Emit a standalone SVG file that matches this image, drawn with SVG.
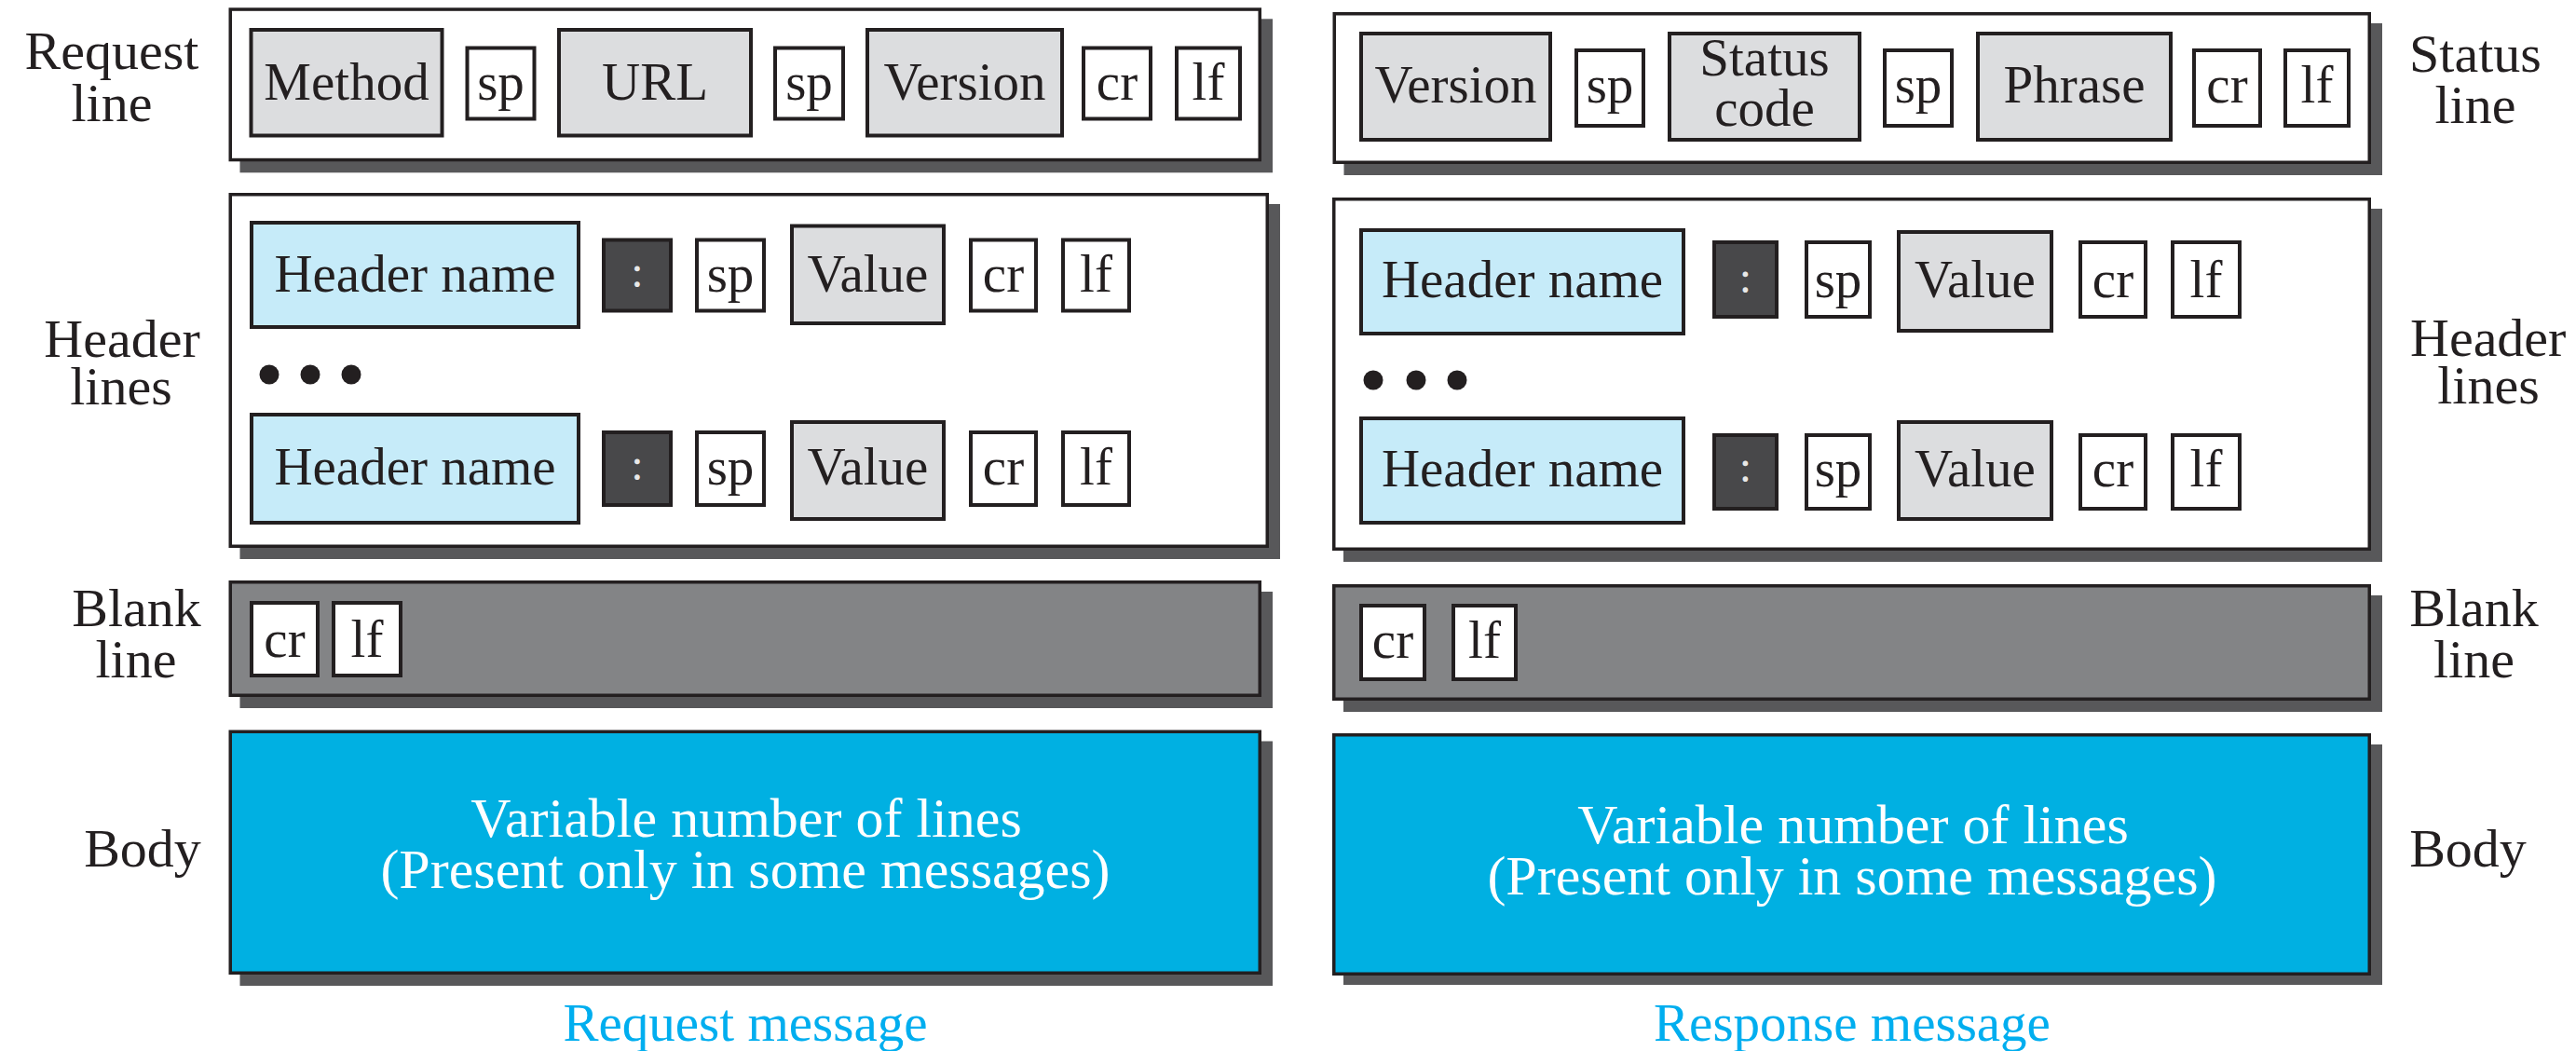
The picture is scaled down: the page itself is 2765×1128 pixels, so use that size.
<svg xmlns="http://www.w3.org/2000/svg" width="2765" height="1128" viewBox="0 0 2765 1128">
<style>
  .sh{fill:#58585a}
  .fr{fill:#ffffff;stroke:#231f20;stroke-width:3.5}
  .fb{fill:#838486;stroke:#231f20;stroke-width:3.5}
  .fy{fill:#00b0e2;stroke:#231f20;stroke-width:3.5}
  .bx{stroke:#231f20;stroke-width:4}
  .g{fill:#dcdddf}
  .w{fill:#ffffff}
  .c{fill:#c6ebf9}
  .d{fill:#48484a}
  text{font-family:"Liberation Serif","Times New Roman",serif;text-anchor:middle}
  .t{font-size:57px;fill:#231f20}
  .col{font-size:48px;fill:#e8e8e8}
  .lb{font-size:58px;fill:#231f20}
  .bt{font-size:60px;fill:#ffffff}
  .cap{font-size:57px;fill:#00aeef}
  .dot{fill:#231f20}
</style>

<!-- ================= Request message (left) ================= -->
<g id="request-line">
  <rect class="sh" x="257.5" y="20.3" width="1108.5" height="165"/>
  <rect class="fr" x="247.25" y="10.05" width="1105" height="161.5"/>
  <rect class="bx g" x="269.5" y="32" width="205" height="113.5"/>
  <text class="t" x="372" y="107">Method</text>
  <rect class="bx w" x="501.5" y="51.5" width="72" height="76"/>
  <text class="t" x="537.5" y="107">sp</text>
  <rect class="bx g" x="600" y="32" width="206" height="113.5"/>
  <text class="t" x="703" y="107">URL</text>
  <rect class="bx w" x="832" y="51.5" width="73" height="76"/>
  <text class="t" x="868.5" y="107">sp</text>
  <rect class="bx g" x="931" y="32" width="209" height="113.5"/>
  <text class="t" x="1035.5" y="107">Version</text>
  <rect class="bx w" x="1163" y="51.5" width="72" height="76"/>
  <text class="t" x="1199" y="107">cr</text>
  <rect class="bx w" x="1263" y="51.5" width="68" height="76"/>
  <text class="t" x="1297" y="107">lf</text>
</g>

<g id="request-headers">
  <rect class="sh" x="257.5" y="219" width="1116.5" height="381"/>
  <rect class="fr" x="247.25" y="208.75" width="1113" height="377.5"/>
  <rect class="bx c" x="270" y="239" width="351" height="112"/>
  <text class="t" x="445.5" y="313">Header name</text>
  <rect class="bx d" x="648" y="257.5" width="72" height="76"/>
  <text class="col" x="684" y="308">:</text>
  <rect class="bx w" x="748" y="257.5" width="72" height="76"/>
  <text class="t" x="784" y="313">sp</text>
  <rect class="bx g" x="850" y="242.5" width="163" height="104.5"/>
  <text class="t" x="931.5" y="313">Value</text>
  <rect class="bx w" x="1042" y="257.5" width="70" height="76"/>
  <text class="t" x="1077" y="313">cr</text>
  <rect class="bx w" x="1141" y="257.5" width="71" height="76"/>
  <text class="t" x="1176.5" y="313">lf</text>

  <circle class="dot" cx="289" cy="402" r="10.5"/>
  <circle class="dot" cx="333" cy="402" r="10.5"/>
  <circle class="dot" cx="377" cy="402" r="10.5"/>

  <rect class="bx c" x="270" y="445" width="351" height="116"/>
  <text class="t" x="445.5" y="520">Header name</text>
  <rect class="bx d" x="648" y="464" width="72" height="78"/>
  <text class="col" x="684" y="515">:</text>
  <rect class="bx w" x="748" y="464" width="72" height="78"/>
  <text class="t" x="784" y="520">sp</text>
  <rect class="bx g" x="850" y="453" width="163" height="104"/>
  <text class="t" x="931.5" y="520">Value</text>
  <rect class="bx w" x="1042" y="464" width="70" height="78"/>
  <text class="t" x="1077" y="520">cr</text>
  <rect class="bx w" x="1141" y="464" width="71" height="78"/>
  <text class="t" x="1176.5" y="520">lf</text>
</g>

<g id="request-blank">
  <rect class="sh" x="257.5" y="635" width="1108.5" height="125"/>
  <rect class="fb" x="247.25" y="624.75" width="1105" height="121.5"/>
  <rect class="bx w" x="270" y="647" width="71" height="78"/>
  <text class="t" x="305.5" y="705">cr</text>
  <rect class="bx w" x="358" y="647" width="72" height="78"/>
  <text class="t" x="394" y="705">lf</text>
</g>

<g id="request-body">
  <rect class="sh" x="257.5" y="795.5" width="1108.5" height="262.5"/>
  <rect class="fy" x="247.25" y="785.25" width="1105" height="259"/>
  <text class="bt" x="801" y="898">Variable number of lines</text>
  <text class="bt" x="800" y="953">(Present only in some messages)</text>
</g>

<g id="request-labels">
  <text class="lb" x="120" y="74">Request</text>
  <text class="lb" x="120" y="130">line</text>
  <text class="lb" x="131" y="383">Header</text>
  <text class="lb" x="130" y="434">lines</text>
  <text class="lb" x="146.5" y="672">Blank</text>
  <text class="lb" x="146" y="727">line</text>
  <text class="lb" x="153" y="930">Body</text>
  <text class="cap" x="800" y="1117">Request message</text>
</g>

<!-- ================= Response message (right) ================= -->
<g id="status-line">
  <rect class="sh" x="1442.5" y="25" width="1114.5" height="163"/>
  <rect class="fr" x="1432.25" y="14.75" width="1111" height="159.5"/>
  <rect class="bx g" x="1461" y="36" width="203" height="114"/>
  <text class="t" x="1562.5" y="110">Version</text>
  <rect class="bx w" x="1692" y="54" width="72" height="81"/>
  <text class="t" x="1728" y="110">sp</text>
  <rect class="bx g" x="1792" y="36" width="204" height="114"/>
  <text class="t" x="1894" y="81">Status</text>
  <text class="t" x="1894" y="135">code</text>
  <rect class="bx w" x="2023" y="54" width="72" height="81"/>
  <text class="t" x="2059" y="110">sp</text>
  <rect class="bx g" x="2123" y="36" width="207" height="114"/>
  <text class="t" x="2226.5" y="110">Phrase</text>
  <rect class="bx w" x="2355" y="54" width="71" height="81"/>
  <text class="t" x="2390.5" y="110">cr</text>
  <rect class="bx w" x="2453" y="54" width="68" height="81"/>
  <text class="t" x="2487" y="110">lf</text>
</g>

<g id="response-headers">
  <rect class="sh" x="1442" y="224" width="1115" height="379"/>
  <rect class="fr" x="1431.75" y="213.75" width="1111.5" height="375.5"/>
  <rect class="bx c" x="1461" y="247" width="346" height="111"/>
  <text class="t" x="1634" y="319">Header name</text>
  <rect class="bx d" x="1840" y="260" width="67" height="80"/>
  <text class="col" x="1873.5" y="314">:</text>
  <rect class="bx w" x="1939" y="260" width="68" height="80"/>
  <text class="t" x="1973" y="319">sp</text>
  <rect class="bx g" x="2038" y="249" width="164" height="106"/>
  <text class="t" x="2120" y="319">Value</text>
  <rect class="bx w" x="2233" y="260" width="70" height="80"/>
  <text class="t" x="2268" y="319">cr</text>
  <rect class="bx w" x="2332" y="260" width="72" height="80"/>
  <text class="t" x="2368" y="319">lf</text>

  <circle class="dot" cx="1474" cy="408" r="10.5"/>
  <circle class="dot" cx="1520" cy="408" r="10.5"/>
  <circle class="dot" cx="1564" cy="408" r="10.5"/>

  <rect class="bx c" x="1461" y="449" width="346" height="112"/>
  <text class="t" x="1634" y="522">Header name</text>
  <rect class="bx d" x="1840" y="467" width="67" height="79"/>
  <text class="col" x="1873.5" y="517">:</text>
  <rect class="bx w" x="1939" y="467" width="68" height="79"/>
  <text class="t" x="1973" y="522">sp</text>
  <rect class="bx g" x="2038" y="453" width="164" height="104"/>
  <text class="t" x="2120" y="522">Value</text>
  <rect class="bx w" x="2233" y="467" width="70" height="79"/>
  <text class="t" x="2268" y="522">cr</text>
  <rect class="bx w" x="2332" y="467" width="72" height="79"/>
  <text class="t" x="2368" y="522">lf</text>
</g>

<g id="response-blank">
  <rect class="sh" x="1442" y="639" width="1115" height="125"/>
  <rect class="fb" x="1431.75" y="628.75" width="1111.5" height="121.5"/>
  <rect class="bx w" x="1461" y="650" width="68" height="79"/>
  <text class="t" x="1495" y="706">cr</text>
  <rect class="bx w" x="1560" y="650" width="67" height="79"/>
  <text class="t" x="1593.5" y="706">lf</text>
</g>

<g id="response-body">
  <rect class="sh" x="1442" y="799" width="1115" height="258"/>
  <rect class="fy" x="1431.75" y="788.75" width="1111.5" height="256.5"/>
  <text class="bt" x="1989" y="905">Variable number of lines</text>
  <text class="bt" x="1988" y="960">(Present only in some messages)</text>
</g>

<g id="response-labels">
  <text class="lb" x="2657" y="77">Status</text>
  <text class="lb" x="2657" y="132">line</text>
  <text class="lb" x="2587" y="382" style="text-anchor:start">Header</text>
  <text class="lb" x="2671" y="433">lines</text>
  <text class="lb" x="2655.5" y="672">Blank</text>
  <text class="lb" x="2655.5" y="727">line</text>
  <text class="lb" x="2649" y="930">Body</text>
  <text class="cap" x="1988" y="1117">Response message</text>
</g>

<g id="connectors"/>
</svg>
